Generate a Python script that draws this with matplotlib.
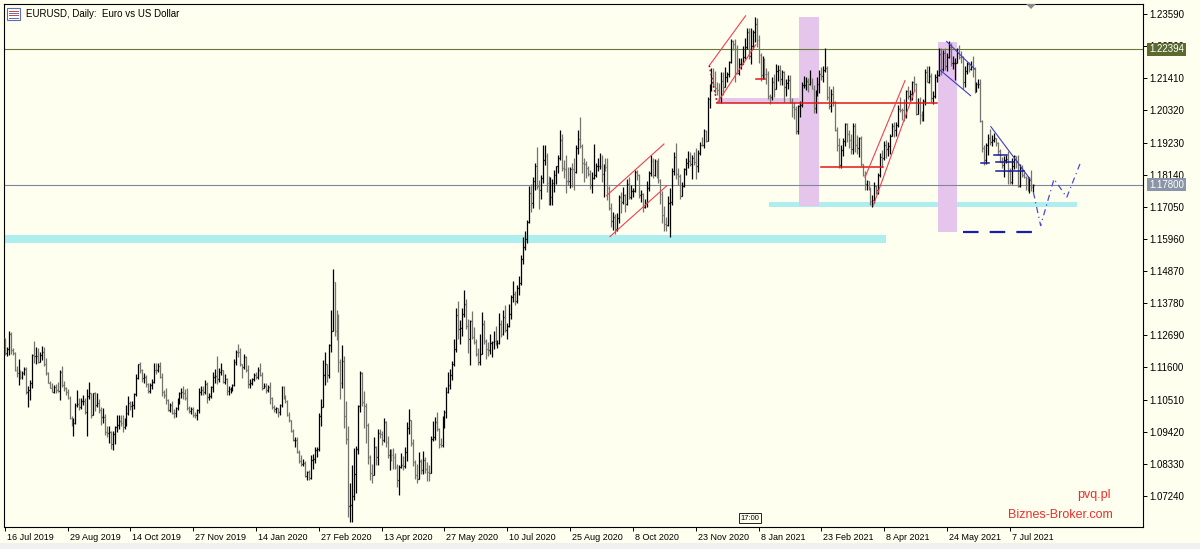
import numpy as np
import matplotlib
matplotlib.use("Agg")
import matplotlib.pyplot as plt
from matplotlib.collections import LineCollection
from matplotlib.patches import Rectangle, Polygon
from matplotlib import transforms

plt.rcParams["font.family"] = ["Liberation Sans", "DejaVu Sans"]

# EURUSD daily bars from 16 Jul 2019 to 23 Jul 2021, price = 1 + value / 10000
close_pips = [
    1210, 1224, 1275, 1219, 1209, 1151, 1140, 1145, 1127, 1142, 1154, 1077,
    1085, 1107, 1202, 1199, 1200, 1180, 1201, 1214, 1173, 1140, 1107, 1091, 1078, 1094, 1082, 1081, 1143, 1102, 1090, 1078, 1057, 990,
    970, 972, 1034, 1035, 1027, 1045, 1045, 1010, 1062, 1074, 1000, 1072, 1032, 1041, 1017, 991, 993, 941, 938, 940, 899,
    933, 959, 966, 978, 971, 957, 971, 1006, 1041, 1028, 1033, 1069, 1124, 1172, 1151, 1124, 1127, 1104, 1080, 1099, 1111, 1153, 1151,
    1165, 1129, 1076, 1066, 1051, 1017, 1032, 1007, 1005, 1022, 1051, 1074, 1077, 1073, 1056, 1021, 1013, 1019, 1000, 998, 1016,
    1078, 1082, 1077, 1104, 1059, 1064, 1093, 1129, 1132, 1120, 1144, 1150, 1112, 1121, 1079, 1088, 1089, 1099, 1177, 1214, 1213,
    1172, 1160, 1196, 1152, 1105, 1107, 1121, 1133, 1129, 1150, 1136, 1092, 1096, 1082, 1093, 1056, 1025, 1018, 1021, 1008, 1031, 1093,
    1060, 1045, 1000, 981, 946, 915, 915, 872, 842, 831, 835, 791, 806, 785, 846, 850, 880, 882, 996, 1027,
    1136, 1172, 1136, 1237, 1284, 1450, 1283, 1269, 1180, 1107, 1183, 997, 917, 690, 694, 723, 798, 885, 1029, 1142, 1043, 1029,
    965, 855, 801, 794, 890, 856, 936, 935, 913, 975, 907, 862, 874, 864, 855, 822, 777, 822, 828, 826, 873, 954,
    982, 905, 838, 794, 781, 841, 811, 845, 817, 806, 803, 917, 924, 975, 950, 899, 898, 980, 1010, 1078, 1100,
    1135, 1172, 1221, 1337, 1291, 1294, 1341, 1374, 1299, 1256, 1316, 1264, 1248, 1206, 1178, 1206, 1309, 1249, 1221, 1218, 1243, 1245,
    1251, 1239, 1244, 1309, 1275, 1331, 1287, 1300, 1342, 1398, 1409, 1384, 1428, 1446, 1527, 1570, 1595, 1655, 1752, 1717, 1792, 1845, 1777,
    1763, 1801, 1865, 1876, 1787, 1734, 1739, 1786, 1813, 1842, 1870, 1930, 1838, 1834, 1794, 1792, 1834, 1832, 1822, 1904, 1936,
    1912, 1855, 1850, 1837, 1816, 1779, 1802, 1813, 1845, 1845, 1845, 1815, 1848, 1839, 1768, 1701, 1657, 1671, 1630, 1666, 1739, 1721,
    1746, 1714, 1782, 1737, 1759, 1759, 1824, 1813, 1744, 1747, 1705, 1718, 1769, 1820, 1862, 1812, 1860, 1812, 1795, 1747, 1676, 1646,
    1642, 1719, 1722, 1827, 1875, 1815, 1811, 1740, 1776, 1833, 1855, 1862, 1849, 1872, 1857, 1844, 1889, 1916, 1914, 1963, 1929,
    2071, 2113, 2143, 2122, 2108, 2101, 2079, 2133, 2110, 2145, 2154, 2196, 2267, 2256, 2240, 2160, 2188, 2188, 2213, 2247, 2299, 2216,
    2250, 2298, 2325, 2272, 2219, 2152, 2206, 2157, 2156, 2080, 2078, 2130, 2106, 2167, 2170, 2140, 2161, 2112, 2126, 2136,
    2062, 2042, 2036, 1963, 2047, 2050, 2119, 2119, 2131, 2120, 2130, 2105, 2039, 2090, 2120, 2156, 2150, 2168, 2176, 2076,
    2048, 2088, 2059, 1966, 1916, 1846, 1899, 1927, 1985, 1952, 1930, 1902, 1978, 1915, 1903, 1937, 1849, 1813, 1782, 1794, 1765, 1726, 1727,
    1777, 1763, 1812, 1875, 1871, 1916, 1900, 1911, 1945, 1979, 1965, 1983, 2037, 2035, 2034, 2014, 2097, 2081, 2089, 2127, 2121, 2019,
    2061, 2015, 2005, 2065, 2163, 2130, 2148, 2075, 2080, 2145, 2153, 2223, 2174, 2226, 2181, 2212, 2248, 2193, 2193, 2193, 2227,
    2213, 2212, 2127, 2166, 2190, 2172, 2179, 2173, 2108, 2121, 2123, 1995, 1905, 1865, 1916, 1940, 1926, 1931, 1938, 1923, 1895, 1858,
    1848, 1865, 1867, 1825, 1790, 1845, 1876, 1862, 1776, 1838, 1812, 1806, 1801, 1781, 1795, 1771, 1780,
]
high_pips = [
    1240, 1228, 1282, 1281, 1225, 1212, 1164, 1188, 1150, 1147, 1160, 1161,
    1096, 1117, 1206, 1250, 1230, 1225, 1212, 1232, 1230, 1191, 1146, 1114, 1106, 1102, 1103, 1112, 1153, 1164, 1113, 1095, 1086, 1063,
    995, 990, 1040, 1085, 1055, 1058, 1068, 1056, 1087, 1109, 1042, 1075, 1076, 1075, 1052, 1026, 1024, 1003, 962, 960, 945,
    943, 962, 999, 999, 998, 999, 990, 1034, 1063, 1045, 1046, 1075, 1139, 1173, 1179, 1156, 1140, 1135, 1108, 1107, 1122, 1175, 1176,
    1176, 1179, 1140, 1085, 1092, 1053, 1038, 1047, 1020, 1027, 1058, 1076, 1090, 1097, 1087, 1090, 1030, 1026, 1025, 1010, 1020,
    1090, 1096, 1098, 1116, 1110, 1074, 1097, 1145, 1155, 1200, 1158, 1175, 1152, 1138, 1125, 1096, 1095, 1103, 1187, 1220, 1239,
    1227, 1172, 1206, 1200, 1170, 1120, 1125, 1140, 1144, 1161, 1174, 1143, 1106, 1108, 1102, 1110, 1061, 1032, 1026, 1023, 1037, 1097,
    1096, 1065, 1050, 1008, 982, 952, 924, 924, 879, 862, 848, 844, 809, 812, 862, 865, 891, 891, 1004, 1053,
    1185, 1213, 1170, 1240, 1356, 1495, 1447, 1355, 1343, 1190, 1236, 1199, 1046, 961, 768, 829, 888, 894, 1032, 1147, 1145, 1080,
    1041, 970, 862, 832, 925, 895, 950, 952, 945, 990, 980, 926, 885, 885, 887, 871, 833, 828, 871, 861, 891, 974,
    1019, 979, 917, 846, 831, 874, 850, 876, 855, 838, 830, 926, 977, 992, 1009, 956, 920, 997, 1016, 1094, 1146,
    1155, 1183, 1257, 1362, 1384, 1322, 1361, 1422, 1391, 1325, 1320, 1352, 1297, 1257, 1227, 1272, 1349, 1321, 1258, 1246, 1274, 1251,
    1283, 1302, 1253, 1345, 1320, 1354, 1371, 1311, 1375, 1405, 1452, 1418, 1440, 1470, 1542, 1601, 1622, 1659, 1777, 1782, 1806, 1853, 1909,
    1797, 1812, 1916, 1916, 1886, 1808, 1806, 1800, 1829, 1843, 1882, 1966, 1951, 1863, 1882, 1839, 1840, 1852, 1872, 1915, 1966,
    2011, 1918, 1870, 1860, 1843, 1831, 1823, 1917, 1852, 1870, 1889, 1882, 1851, 1872, 1872, 1776, 1718, 1688, 1681, 1683, 1746, 1754,
    1771, 1748, 1798, 1806, 1779, 1770, 1831, 1829, 1817, 1763, 1751, 1730, 1793, 1827, 1880, 1870, 1868, 1864, 1870, 1799, 1760, 1708,
    1670, 1742, 1770, 1838, 1891, 1920, 1838, 1815, 1789, 1838, 1869, 1894, 1892, 1880, 1890, 1906, 1898, 1926, 1942, 1970, 1966,
    2077, 2120, 2176, 2177, 2167, 2128, 2126, 2163, 2162, 2178, 2162, 2199, 2273, 2272, 2274, 2255, 2210, 2210, 2251, 2276, 2310, 2310,
    2310, 2306, 2349, 2344, 2289, 2226, 2218, 2210, 2175, 2165, 2089, 2145, 2154, 2190, 2187, 2187, 2170, 2166, 2140, 2152,
    2153, 2075, 2061, 2048, 2050, 2063, 2127, 2149, 2144, 2141, 2169, 2143, 2117, 2100, 2144, 2169, 2180, 2181, 2243, 2182,
    2114, 2104, 2114, 2065, 1976, 1937, 1916, 1937, 1990, 1989, 1966, 1952, 1988, 1990, 1947, 1942, 1946, 1849, 1827, 1797, 1791, 1771, 1745,
    1790, 1779, 1820, 1887, 1899, 1927, 1932, 1925, 1953, 1990, 1993, 1994, 2049, 2079, 2040, 2070, 2102, 2116, 2100, 2133, 2150, 2126,
    2075, 2076, 2029, 2071, 2172, 2182, 2181, 2159, 2098, 2155, 2169, 2245, 2244, 2237, 2244, 2225, 2266, 2262, 2218, 2211, 2244,
    2254, 2233, 2217, 2184, 2196, 2197, 2199, 2218, 2180, 2130, 2139, 2139, 2000, 1915, 1920, 1953, 1970, 1948, 1956, 1939, 1925, 1902,
    1875, 1877, 1881, 1895, 1837, 1869, 1880, 1876, 1880, 1849, 1848, 1823, 1811, 1809, 1806, 1829, 1782,
]
low_pips = [
    1201, 1200, 1203, 1205, 1203, 1147, 1127, 1101, 1121, 1122, 1136, 1069,
    1027, 1050, 1092, 1175, 1172, 1176, 1179, 1185, 1165, 1135, 1106, 1090, 1077, 1075, 1073, 1077, 1051, 1093, 1081, 1065, 1053, 985,
    960, 926, 968, 1025, 1015, 1020, 1033, 1003, 927, 1054, 990, 998, 1012, 1026, 1004, 965, 973, 931, 925, 905, 885,
    879, 901, 940, 950, 960, 940, 950, 962, 1000, 1015, 992, 1020, 1063, 1122, 1141, 1110, 1106, 1095, 1072, 1074, 1087, 1106, 1139,
    1143, 1125, 1064, 1055, 1036, 1013, 1010, 1001, 989, 992, 1015, 1036, 1058, 1053, 1048, 1015, 1007, 1002, 993, 990, 981,
    1005, 1067, 1068, 1070, 1040, 1050, 1058, 1077, 1107, 1105, 1110, 1135, 1108, 1103, 1066, 1065, 1075, 1080, 1096, 1170, 1196,
    1165, 1125, 1154, 1145, 1090, 1092, 1100, 1115, 1120, 1122, 1132, 1085, 1090, 1073, 1078, 1036, 1019, 1010, 1004, 992, 999, 1026,
    1054, 1039, 996, 975, 941, 911, 891, 869, 836, 827, 825, 787, 778, 778, 780, 814, 837, 855, 876, 960,
    1027, 1102, 1110, 1124, 1214, 1322, 1268, 1254, 1144, 1054, 1092, 955, 899, 653, 636, 636, 710, 735, 867, 1010, 1030, 956,
    905, 832, 778, 768, 794, 830, 830, 920, 898, 906, 890, 854, 813, 844, 816, 814, 755, 727, 818, 811, 819, 844,
    933, 892, 825, 782, 768, 783, 797, 798, 803, 775, 774, 807, 909, 913, 945, 887, 889, 891, 955, 990, 1072,
    1087, 1117, 1164, 1212, 1256, 1240, 1268, 1332, 1291, 1210, 1168, 1255, 1238, 1199, 1168, 1167, 1257, 1240, 1187, 1200, 1206, 1195,
    1221, 1236, 1226, 1241, 1264, 1270, 1280, 1258, 1297, 1323, 1383, 1371, 1378, 1405, 1441, 1512, 1557, 1581, 1650, 1689, 1702, 1761, 1765,
    1696, 1733, 1786, 1846, 1754, 1711, 1711, 1710, 1755, 1782, 1821, 1863, 1825, 1802, 1753, 1780, 1768, 1773, 1762, 1821, 1883,
    1906, 1820, 1789, 1802, 1808, 1766, 1752, 1800, 1807, 1827, 1832, 1790, 1737, 1825, 1729, 1694, 1636, 1627, 1612, 1622, 1650, 1683,
    1713, 1689, 1710, 1731, 1732, 1737, 1754, 1796, 1736, 1720, 1689, 1701, 1705, 1759, 1811, 1803, 1809, 1801, 1787, 1716, 1650, 1622,
    1622, 1640, 1602, 1712, 1814, 1799, 1780, 1730, 1745, 1772, 1812, 1836, 1845, 1800, 1846, 1800, 1823, 1880, 1912, 1906, 1924,
    1927, 2041, 2098, 2112, 2092, 2084, 2059, 2058, 2084, 2113, 2127, 2144, 2194, 2236, 2130, 2154, 2152, 2174, 2192, 2205, 2240, 2208,
    2191, 2239, 2265, 2246, 2192, 2132, 2139, 2138, 2120, 2069, 2054, 2068, 2078, 2121, 2131, 2119, 2117, 2059, 2080, 2105,
    2057, 2011, 2004, 1952, 1951, 2011, 2044, 2108, 2100, 2093, 2118, 2103, 2023, 2023, 2081, 2091, 2134, 2127, 2163, 2067,
    2036, 2025, 2047, 1963, 1893, 1836, 1836, 1877, 1912, 1924, 1904, 1883, 1885, 1890, 1885, 1874, 1843, 1808, 1762, 1761, 1761, 1712, 1704,
    1718, 1748, 1749, 1807, 1840, 1864, 1869, 1876, 1883, 1946, 1941, 1944, 1976, 2028, 2001, 1996, 2007, 2072, 2060, 2067, 2099, 2017,
    2021, 1986, 1997, 1995, 2051, 2127, 2124, 2062, 2052, 2075, 2128, 2148, 2152, 2164, 2170, 2164, 2211, 2183, 2172, 2134, 2192,
    2205, 2192, 2104, 2113, 2156, 2161, 2169, 2144, 2092, 2093, 2108, 1991, 1892, 1847, 1849, 1880, 1914, 1912, 1925, 1910, 1881, 1858,
    1837, 1807, 1854, 1782, 1781, 1782, 1834, 1838, 1772, 1771, 1806, 1802, 1763, 1758, 1751, 1760, 1754,
]
open_first = 1.1259

date_labels = ["16 Jul 2019", "29 Aug 2019", "14 Oct 2019", "27 Nov 2019", "14 Jan 2020",
               "27 Feb 2020", "13 Apr 2020", "27 May 2020", "10 Jul 2020", "25 Aug 2020",
               "8 Oct 2020", "23 Nov 2020", "8 Jan 2021", "23 Feb 2021", "8 Apr 2021",
               "24 May 2021", "7 Jul 2021"]
label_every = 32
price_ticks = [1.23590, 1.22500, 1.21410, 1.20320, 1.19230, 1.18140, 1.17050, 1.15960,
               1.14870, 1.13780, 1.12690, 1.11600, 1.10510, 1.09420, 1.08330, 1.07240]
level_price = 1.22394
bid_price = 1.17800

# drawn objects, in (bar index, price)
cyan_bands = [(-2.0, 448.9, 1.1583, 1.1609), (389.5, 546.1, 1.1705, 1.1721)]
pink_boxes = [(404.7, 414.9, 1.1708, 1.2349), (475.2, 485.2, 1.1621, 1.2263),
              (362.7, 404.7, 1.2057, 1.2073)]
red_levels = [(362.7, 475.0, 1.2057), (382.9, 387.3, 1.2139), (415.8, 447.2, 1.1840)]
red_channels = [
    [(306.6, 1.1743), (335.8, 1.1918)], [(308.3, 1.1604), (337.2, 1.1776)],
    [(358.9, 1.2184), (377.4, 1.2353)], [(362.9, 1.2057), (382.6, 1.2255)],
    [(438.2, 1.1805), (458.6, 1.2133)], [(442.4, 1.1709), (463.6, 1.2101)],
]
red_dotted = [[(358.9, 1.2184), (362.9, 1.2057)]]
blue_lines = [
    [(479.8, 1.2266), (494.2, 1.2172)], [(476.4, 1.2169), (492.0, 1.2082)],
    [(502.3, 1.1977), (522.3, 1.1799)],
]
blue_levels = [(497.2, 501.5, 1.1853), (504.0, 510.4, 1.1882), (505.0, 514.0, 1.1856),
               (505.0, 519.0, 1.1828)]
support_dash = (488.1, 528.9, 1.16195)
forecast_idx = [524.0, 527.7, 534.5, 541.0, 547.7]
forecast_price = [1.17542, 1.16409, 1.17993, 1.17372, 1.18502]

W, H = 1200, 549
bg = "#fffff0"
fig = plt.figure(figsize=(W / 100, H / 100), dpi=100, facecolor=bg)
ax = fig.add_axes([4 / W, 22 / H, 1139 / W, 523 / H])
ax.set_facecolor(bg)

n = min(len(close_pips), len(high_pips), len(low_pips))
closes = 1 + np.array(close_pips[:n]) / 1e4
highs = 1 + np.array(high_pips[:n]) / 1e4
lows = 1 + np.array(low_pips[:n]) / 1e4
opens = np.r_[open_first, closes[:-1]]
highs = np.maximum(highs, np.maximum(opens, closes))
lows = np.minimum(lows, np.minimum(opens, closes))
idx = np.arange(n)
up = closes >= opens

segs = []
cols = []
for i in idx:
    c = "#000000" if up[i] else "#74746c"
    segs += [[(i, lows[i]), (i, highs[i])],
             [(i - 0.45, opens[i]), (i, opens[i])],
             [(i, closes[i]), (i + 0.45, closes[i])]]
    cols += [c, c, c]
ax.add_collection(LineCollection(segs, colors=cols, linewidths=0.9,
                                 antialiased=True, zorder=3))

# background objects
for x0, x1, y0, y1 in cyan_bands:
    ax.add_patch(Rectangle((x0, y0), x1 - x0, y1 - y0, fc="#aeeeee", ec="none", zorder=1))
for x0, x1, y0, y1 in pink_boxes:
    ax.add_patch(Rectangle((x0, y0), x1 - x0, y1 - y0, fc="#e6c5ec", ec="none", zorder=1))
ax.axhline(level_price, color="#66773a", lw=0.8, zorder=2)
ax.axhline(bid_price, color="#7a879e", lw=0.8, zorder=2)

# analysis lines
for x0, x1, y in red_levels:
    ax.plot([x0, x1], [y, y], color="#e01818", lw=1.1, zorder=4)
for line in red_channels:
    xs, ys = zip(*line)
    ax.plot(xs, ys, color="#ee4050", lw=0.8, zorder=4)
for line in red_dotted:
    xs, ys = zip(*line)
    ax.plot(xs, ys, color="#a01020", lw=1.2, ls=(0, (1, 1.5)), zorder=4)
for line in blue_lines:
    xs, ys = zip(*line)
    ax.plot(xs, ys, color="#3c3cc8", lw=0.8, zorder=4)
for x0, x1, y in blue_levels:
    ax.plot([x0, x1], [y, y], color="#1c1ca0", lw=1.1, zorder=4)
x0, x1, y = support_dash
ax.plot([x0, x1], [y, y], color="#1c1ca8", lw=1.6, ls=(0, (7, 5)), zorder=4)
ax.plot(forecast_idx, forecast_price, color="#4a4ae0", lw=0.9, ls=(0, (5, 3, 1, 3)), zorder=4)

ax.set_xlim(-0.4, -0.4 + 1139 / 1.963)
ax.set_ylim(1.06188, 1.23929)

# price axis on the right
ax.yaxis.tick_right()
ax.set_yticks(price_ticks)
ax.set_yticklabels([f"{p:.5f}" for p in price_ticks])
ax.tick_params(axis="y", length=3, width=0.7, pad=1.5, labelsize=7, direction="out")
for p, fc in [(level_price, "#5b6b30"), (bid_price, "#8a95a8")]:
    ax.text(1 + 6 / 1139, p, f"{p:.5f}", transform=ax.get_yaxis_transform(),
            ha="left", va="center", fontsize=7, color="white", zorder=6,
            bbox=dict(boxstyle="square,pad=0.18", fc=fc, ec="none"))

# time axis
ax.set_xticks([k * label_every for k in range(len(date_labels))])
ax.set_xticklabels(date_labels)
ax.tick_params(axis="x", length=3, width=0.7, pad=1.5, labelsize=6.5, direction="out")
shift = transforms.ScaledTranslation(2 / 100, 0, fig.dpi_scale_trans)
for lab in ax.get_xticklabels():
    lab.set_horizontalalignment("left")
    lab.set_transform(lab.get_transform() + shift)

for s in ax.spines.values():
    s.set_color("#000000")
    s.set_linewidth(0.8)

# labels inside the chart
ax.text(0.9737, 0.0229, "Biznes-Broker.com", transform=ax.transAxes, ha="right",
        va="center", fontsize=9, color="#e8302c")
ax.text(0.9719, 0.0612, "pvq.pl", transform=ax.transAxes, ha="right",
        va="center", fontsize=9, color="#e8302c")
ax.text(0.655, 0.017, "17:00", transform=ax.transAxes, ha="center", va="center",
        fontsize=5.5, color="#000000", zorder=6,
        bbox=dict(boxstyle="square,pad=0.2", fc=bg, ec="#000000", lw=0.6))

# window chrome
fig.text(26 / W, 1 - 14 / H, "EURUSD, Daily:  Euro vs US Dollar", fontsize=7,
         va="center", ha="left", color="#000000")
fig.add_artist(Rectangle((7 / W, 1 - 20 / H), 13 / W, 12 / H, transform=fig.transFigure,
                         fc="white", ec="#5b6fb0", lw=0.8))
for k, c in enumerate(["#d04040", "#5b6fb0", "#d04040", "#5b6fb0"]):
    yy = 1 - (11 + 2.2 * k) / H
    fig.add_artist(plt.Line2D([9 / W, 18 / W], [yy, yy], transform=fig.transFigure,
                              color=c, lw=0.7))
fig.add_artist(Polygon([(1026 / W, 1 - 4 / H), (1036 / W, 1 - 4 / H), (1031 / W, 1 - 9 / H)],
                       transform=fig.transFigure, fc="#8a8a8a", ec="none"))
fig.add_artist(Rectangle((0, 0), 1, 6 / H, transform=fig.transFigure,
                         fc="#f0f0f0", ec="none"))

fig.savefig("out.png", dpi=100, facecolor=bg)
